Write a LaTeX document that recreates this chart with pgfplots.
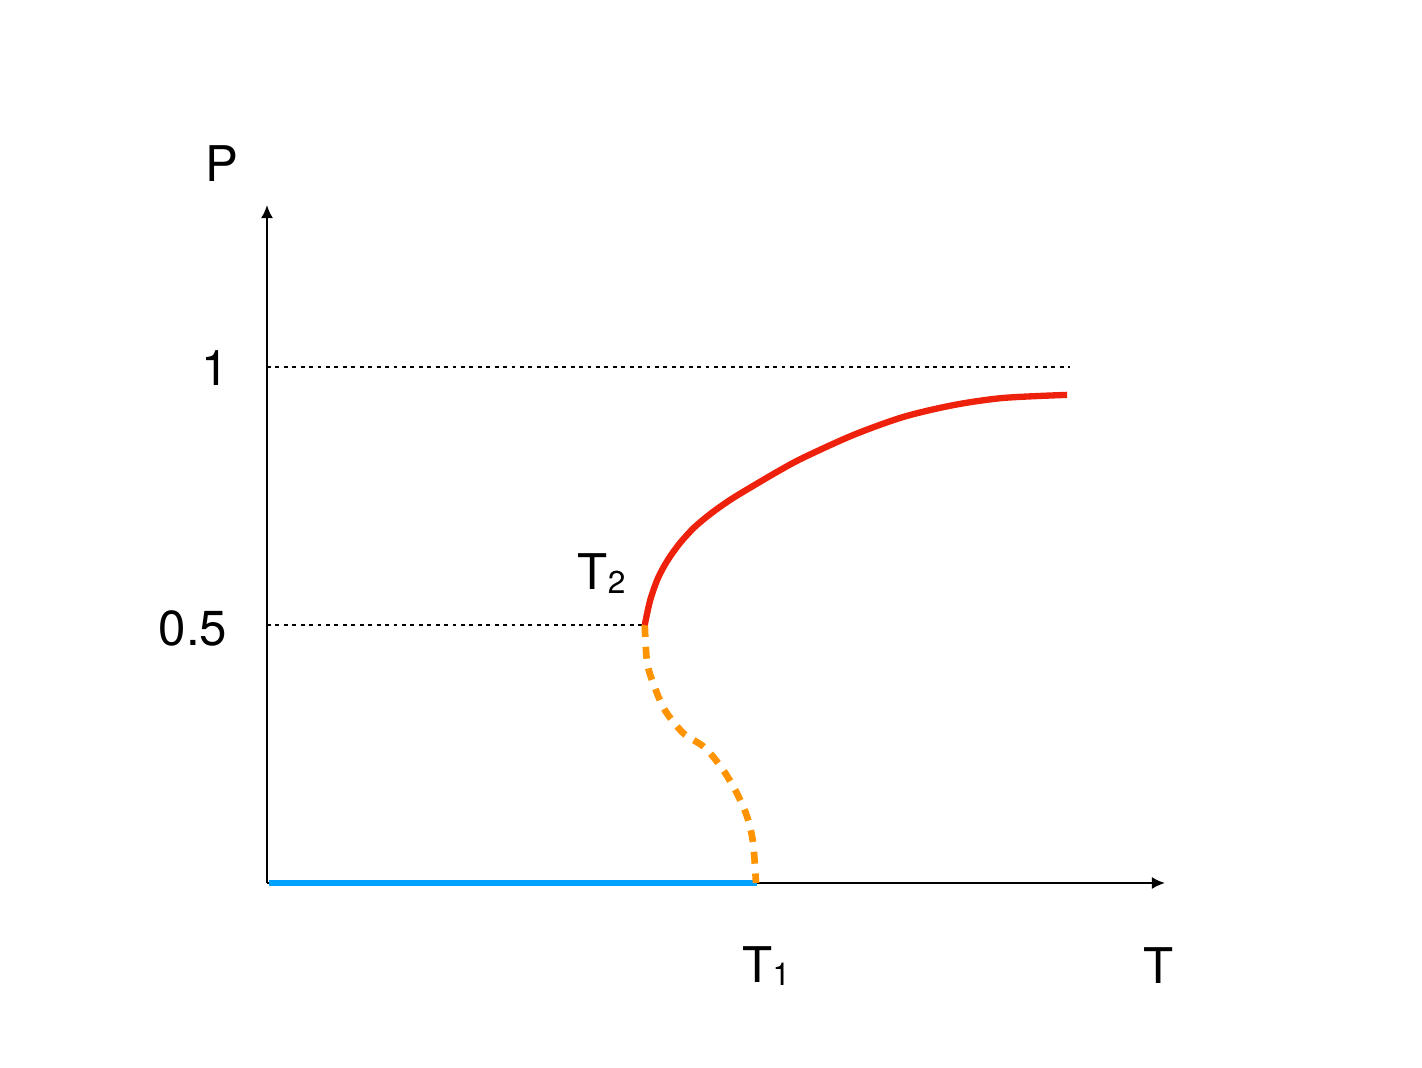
\documentclass[border=0pt]{standalone}
\usepackage{fontspec}
\setmainfont{TeX Gyre Heros}
\usepackage{pgfplots}
\pgfplotsset{compat=1.18}
\usetikzlibrary{arrows.meta}

\definecolor{kred}{HTML}{EE220C}
\definecolor{korange}{HTML}{FF9300}
\definecolor{kblue}{HTML}{00A2FF}

\newcommand{\sub}[1]{\raisebox{-0.35mm}{\fontsize{9}{10}\selectfont #1}}

\begin{document}
\begin{tikzpicture}[font=\fontsize{14}{17}\selectfont]
\useasboundingbox (-26.7mm,-18.4mm) rectangle (115.5mm,88.3mm);
\begin{axis}[
    scale only axis,
    width=89.8mm, height=67.8mm,
    xmin=0, xmax=1.8327,
    ymin=0, ymax=1.314,
    enlargelimits=false,
    axis lines=left,
    axis line style={line width=0.6pt, -{Latex[length=1.3mm,width=1.2mm]}},
    xtick=\empty, ytick=\empty,
    clip=false,
    dotted line/.style={black, line width=0.6pt, dash pattern=on 1.1pt off 1.3pt},
]
% dotted guide lines
\addplot[dotted line] coordinates {(0,1) (1.639,1)};
\addplot[dotted line] coordinates {(0,0.5) (0.771,0.5)};

% stable low branch
\addplot[kblue, line width=1.8pt] coordinates {(0.004,0) (1.0,0)};

% unstable branch
\addplot[korange, line width=1.9pt, dash pattern=on 3.4pt off 2.8pt, smooth] coordinates {
    (0.771,0.500) (0.776,0.426) (0.792,0.378) (0.812,0.335) (0.849,0.291)
    (0.894,0.262) (0.931,0.219) (0.959,0.174) (0.980,0.128) (0.992,0.078) (0.998,0)
};

% stable high branch
\addplot[kred, line width=1.8pt, smooth] coordinates {
    (0.771,0.500) (0.782,0.548) (0.798,0.591) (0.818,0.626) (0.843,0.659)
    (0.873,0.690) (0.910,0.719) (0.951,0.746) (1.000,0.774) (1.045,0.799)
    (1.094,0.824) (1.196,0.868) (1.298,0.903) (1.400,0.926) (1.502,0.940) (1.633,0.946)
};

% labels
\node[anchor=base west, inner sep=0] at (axis cs:-0.127,1.359) {P};
\node[anchor=base east, inner sep=0] at (axis cs:-0.076,0.965) {1};
\node[anchor=base east, inner sep=0] at (axis cs:-0.080,0.461) {0.5};
\node[anchor=base west, inner sep=0] at (axis cs:0.633,0.568) {T\sub{2}};
\node[anchor=base west, inner sep=0] at (axis cs:0.969,-0.192) {T\sub{1}};
\node[anchor=base west, inner sep=0] at (axis cs:1.788,-0.194) {T};
\end{axis}
\end{tikzpicture}
\end{document}
